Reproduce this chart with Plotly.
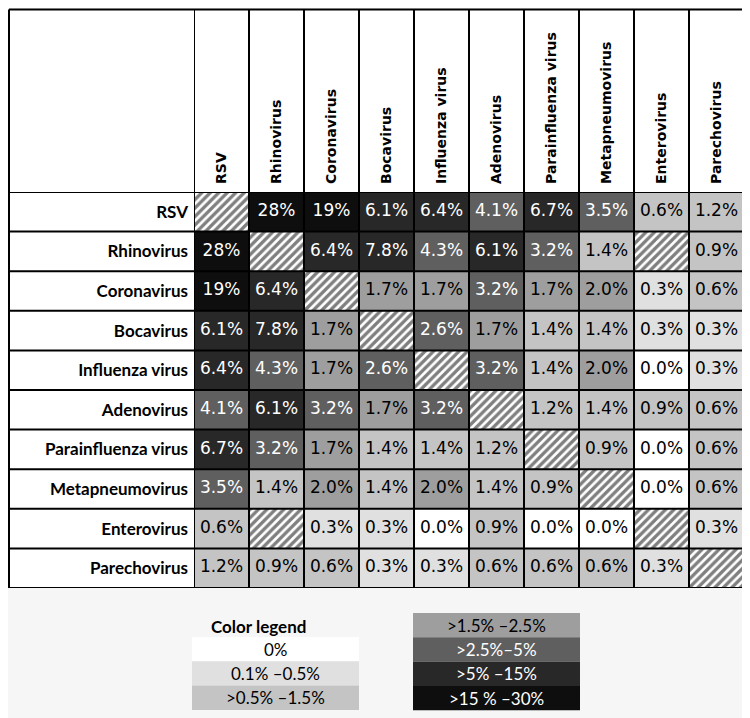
import plotly.graph_objects as go

viruses = ["RSV", "Rhinovirus", "Coronavirus", "Bocavirus", "Influenza virus",
           "Adenovirus", "Parainfluenza virus", "Metapneumovirus", "Enterovirus", "Parechovirus"]

# co-detection percentages, None = not applicable (hatched)
rsv = [None, 28, 19, 6.1, 6.4, 4.1, 6.7, 3.5, 0.6, 1.2]
rhino = [28, None, 6.4, 7.8, 4.3, 6.1, 3.2, 1.4, None, 0.9]
corona = [19, 6.4, None, 1.7, 1.7, 3.2, 1.7, 2.0, 0.3, 0.6]
boca = [6.1, 7.8, 1.7, None, 2.6, 1.7, 1.4, 1.4, 0.3, 0.3]
influenza = [6.4, 4.3, 1.7, 2.6, None, 3.2, 1.4, 2.0, 0.0, 0.3]
adeno = [4.1, 6.1, 3.2, 1.7, 3.2, None, 1.2, 1.4, 0.9, 0.6]
parainfluenza = [6.7, 3.2, 1.7, 1.4, 1.4, 1.2, None, 0.9, 0.0, 0.6]
metapneumo = [3.5, 1.4, 2.0, 1.4, 2.0, 1.4, 0.9, None, 0.0, 0.6]
entero = [0.6, None, 0.3, 0.3, 0.0, 0.9, 0.0, 0.0, None, 0.3]
parecho = [1.2, 0.9, 0.6, 0.3, 0.3, 0.6, 0.6, 0.6, 0.3, None]

rows = [rsv, rhino, corona, boca, influenza, adeno, parainfluenza, metapneumo, entero, parecho]

bin_edges = [0, 0.5, 1.5, 2.5, 5, 15, 30]
bin_labels = ["0%", "0.1% –0.5%", ">0.5% –1.5%", ">1.5% –2.5%", ">2.5%–5%", ">5% –15%", ">15 % –30%"]
bin_colors = ["#ffffff", "#e0e0e0", "#c4c4c4", "#9e9e9e", "#5f5f5f", "#282828", "#0e0e0e"]


def to_bin(v):
    if v is None:
        return None
    for i, e in enumerate(bin_edges):
        if v <= e:
            return i
    return len(bin_edges) - 1


def fmt(v):
    return "%d%%" % v if v >= 10 else "%.1f%%" % v


z = [[to_bin(v) for v in r] for r in rows]

n = len(viruses)
scale = []
for i, c in enumerate(bin_colors):
    scale.append([i / len(bin_colors), c])
    scale.append([(i + 1) / len(bin_colors), c])

tx, ty, tt, tc = [], [], [], []
hx, hy = [], []
for ri, r in enumerate(rows):
    for ci, v in enumerate(r):
        if v is None:
            hx.append(ci)
            hy.append(ri - 0.5)
        else:
            tx.append(ci)
            ty.append(ri)
            tt.append(fmt(v))
            tc.append("white" if to_bin(v) >= 4 else "black")

fig = go.Figure()
fig.add_trace(go.Heatmap(z=z, x=list(range(n)), y=list(range(n)), colorscale=scale,
                         zmin=-0.5, zmax=len(bin_colors) - 0.5, showscale=False, hoverinfo="skip"))
fig.add_trace(go.Bar(x=hx, y=[1] * len(hx), base=hy, width=1,
                     marker=dict(color="white", line_width=0,
                                 pattern=dict(shape="/", fgcolor="black", bgcolor="white",
                                              size=6, solidity=0.55)),
                     hoverinfo="skip"))
fig.add_trace(go.Scatter(x=tx, y=ty, mode="text", text=tt,
                         textfont=dict(family="DejaVu Sans", size=17, color=tc), hoverinfo="skip"))

# page offset (body margin) and plot area in figure pixels
OFF = 8
W, H, L, T = 550, 396, 186, 184


def px(x):
    return (x - OFF - L) / W


def py(y):
    return (T + H - (y - OFF)) / H


top = py(9.5)
left = px(9)
shapes = [dict(type="rect", xref="paper", yref="paper", x0=left, x1=1, y0=0, y1=top,
               fillcolor="white", line_width=0, layer="below")]
for i in range(n + 1):
    shapes.append(dict(type="line", xref="x", yref="paper", x0=i - 0.5, x1=i - 0.5, y0=0, y1=top,
                       line=dict(color="black", width=2)))
    shapes.append(dict(type="line", xref="paper", yref="y", x0=left, x1=1, y0=i - 0.5, y1=i - 0.5,
                       line=dict(color="black", width=2)))
shapes.append(dict(type="line", xref="paper", yref="paper", x0=left, x1=1, y0=top, y1=top,
                   line=dict(color="black", width=2)))
shapes.append(dict(type="line", xref="paper", yref="paper", x0=left, x1=left, y0=0, y1=top,
                   line=dict(color="black", width=2)))

# colour legend
annotations = [dict(xref="paper", yref="paper", x=px(258), y=py(626), text="<b>Color legend</b>",
                    xanchor="center", yanchor="middle", showarrow=False,
                    font=dict(family="Lato", size=17, color="black"))]
for i, (lab, col) in enumerate(zip(bin_labels, bin_colors)):
    if i < 3:
        x0, x1, y0 = 192, 359, 637 + 24.3 * i
    else:
        x0, x1, y0 = 413, 580, 613 + 24.3 * (i - 3)
    shapes.append(dict(type="rect", xref="paper", yref="paper", x0=px(x0), x1=px(x1),
                       y0=py(y0), y1=py(y0 + 24.3), fillcolor=col, line_width=0))
    annotations.append(dict(xref="paper", yref="paper", x=px((x0 + x1) / 2), y=py(y0 + 12.2),
                            text=lab, showarrow=False, xanchor="center", yanchor="middle",
                            font=dict(family="Lato", size=17, color="white" if i >= 4 else "black")))

fig.update_layout(
    width=750, height=718,
    margin=dict(l=L, r=750 - L - W, t=T, b=718 - T - H),
    paper_bgcolor="#f6f6f6", plot_bgcolor="white",
    showlegend=False, barmode="overlay",
    shapes=shapes, annotations=annotations,
    xaxis=dict(range=[-0.5, n - 0.5], side="top", tickvals=list(range(n)),
               ticktext=["<b>%s</b>" % v for v in viruses], tickangle=-90, ticks="",
               ticklabelstandoff=7, showgrid=False, zeroline=False, automargin=False,
               tickfont=dict(family="DejaVu Sans", size=14, color="black")),
    yaxis=dict(range=[n - 0.5, -0.5], tickvals=list(range(n)),
               ticktext=["<b>%s</b>" % v for v in viruses], ticks="",
               ticklabelstandoff=5, showgrid=False, zeroline=False, automargin=False,
               tickfont=dict(family="Lato", size=17, color="black")),
)

fig.write_html("out.html")
